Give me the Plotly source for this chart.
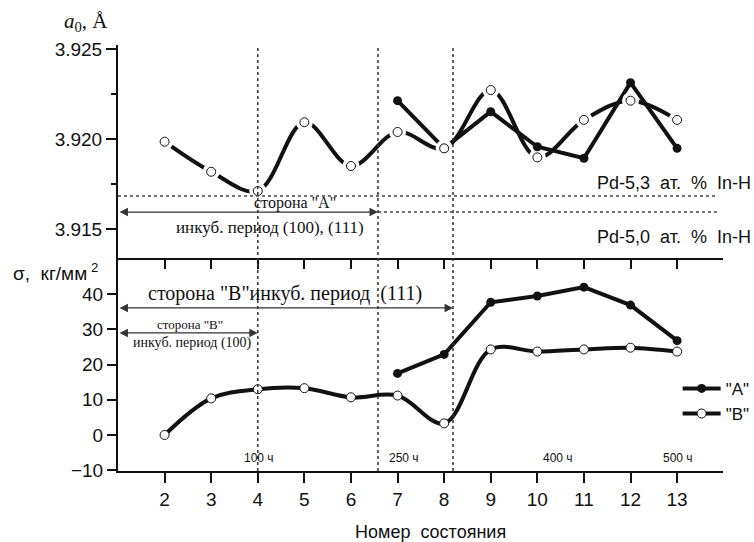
import plotly.graph_objects as go

# ---------------- data ----------------
states = [2, 3, 4, 5, 6, 7, 8, 9, 10, 11, 12, 13]
states_A = [7, 8, 9, 10, 11, 12, 13]

# lattice parameter a0, Å (top panel)
a0_B = [3.91985, 3.91818, 3.91711, 3.92093, 3.91850, 3.92039,
        3.91948, 3.92272, 3.91898, 3.92106, 3.92213, 3.92106]
a0_A = [3.92213, 3.91948, 3.92152, 3.91957, 3.91893, 3.92313, 3.91948]

# stress sigma, kg/mm^2 (bottom panel)
sigma_B = [0.0, 10.4, 13.0, 13.3, 10.7, 11.2, 3.3, 24.3, 23.7, 24.3, 24.8, 23.7]
sigma_A = [17.5, 22.9, 37.7, 39.5, 42.0, 36.9, 26.8]

x_ticks = list(range(2, 14))
sigma_ticks = [-10, 0, 10, 20, 30, 40]
a0_ticks = [3.915, 3.920, 3.925]

time_labels = ["100 ч", "250 ч", "400 ч", "500 ч"]
time_x = [4.03, 7.14, 10.44, 13.02]
boundaries = [4.0, 6.58, 8.19]

legend_names = ['"A"', '"B"']

# ---------------- styling ----------------
SANS = "Liberation Sans, Arial, sans-serif"
SERIF = "Liberation Serif, Times New Roman, serif"
INK = "#111111"
LW = 4

fig = go.Figure()

# ---- top panel (a0) ----
fig.add_trace(go.Scatter(x=states, y=a0_B, mode="lines", xaxis="x2", yaxis="y2",
                         line=dict(color=INK, width=LW, shape="spline", smoothing=1.0),
                         showlegend=False, hoverinfo="skip"))
fig.add_trace(go.Scatter(x=states_A, y=a0_A, mode="lines", xaxis="x2", yaxis="y2",
                         line=dict(color=INK, width=LW),
                         showlegend=False, hoverinfo="skip"))
# white halo around open markers (gap in the curves)
fig.add_trace(go.Scatter(x=states, y=a0_B, mode="markers", xaxis="x2", yaxis="y2",
                         marker=dict(size=17, color="white", line=dict(width=0)),
                         showlegend=False, hoverinfo="skip"))
fig.add_trace(go.Scatter(x=states_A, y=a0_A, mode="markers", xaxis="x2", yaxis="y2",
                         marker=dict(size=9, color=INK, line=dict(width=0)),
                         showlegend=False))
fig.add_trace(go.Scatter(x=states, y=a0_B, mode="markers", xaxis="x2", yaxis="y2",
                         marker=dict(size=9, color="white", line=dict(width=1, color=INK)),
                         showlegend=False))

# ---- bottom panel (sigma) ----
fig.add_trace(go.Scatter(x=states_A, y=sigma_A, mode="lines+markers", name=legend_names[0],
                         line=dict(color=INK, width=LW),
                         marker=dict(size=9, color=INK, line=dict(width=0))))
fig.add_trace(go.Scatter(x=states, y=sigma_B, mode="lines+markers", name=legend_names[1],
                         line=dict(color=INK, width=LW, shape="spline", smoothing=1.0),
                         marker=dict(size=9, color="white", line=dict(width=1, color=INK))))

# ---------------- axes ----------------
xr = [1.0, 13.985]
axis_common = dict(showline=True, linecolor=INK, linewidth=2, showgrid=False,
                   zeroline=False, ticks="outside", tickcolor=INK, tickwidth=1.5)

fig.update_layout(
    width=754, height=542,
    margin=dict(l=118, r=31, t=45, b=71, autoexpand=False),
    paper_bgcolor="white", plot_bgcolor="white",
    font=dict(family=SANS, size=17, color=INK),
    xaxis=dict(**axis_common, domain=[0, 1], range=xr, anchor="y",
               tickvals=x_ticks, ticklen=10, tickfont=dict(size=19)),
    yaxis=dict(**axis_common, domain=[0, 0.5], range=[-10.23, 50.28], anchor="x",
               tickvals=sigma_ticks, ticklen=9, tickfont=dict(size=19)),
    xaxis2=dict(**axis_common, domain=[0, 1], range=xr, anchor="y2", matches="x",
                tickvals=x_ticks, ticklen=9, showticklabels=False),
    yaxis2=dict(**axis_common, domain=[0.5, 1], range=[3.913389, 3.925222], anchor="x2",
                tickvals=a0_ticks, tickformat=".3f", ticklen=10, tickfont=dict(size=19),
                minor=dict(dtick=0.0025, tick0=3.9125, ticks="outside", ticklen=5,
                           tickcolor=INK, tickwidth=1.5)),
    legend=dict(x=0.925, y=0.235, xanchor="left", yanchor="top",
                bgcolor="rgba(0,0,0,0)", borderwidth=0,
                font=dict(family=SANS, size=17), itemwidth=38,
                tracegroupgap=0),
)

# ---------------- reference lines ----------------
shapes = []
for bx in boundaries:
    shapes.append(dict(type="line", xref="x", yref="paper", x0=bx, x1=bx, y0=0, y1=1,
                       line=dict(color="#333", width=1.5, dash="dot")))
shapes.append(dict(type="line", xref="x", yref="y2", x0=1.0, x1=13.88, y0=3.91683, y1=3.91683,
                   line=dict(color="#444", width=1.5, dash="dot")))
shapes.append(dict(type="line", xref="x", yref="y2", x0=6.58, x1=13.92, y0=3.91594, y1=3.91594,
                   line=dict(color="#444", width=1.5, dash="dot")))
fig.update_layout(shapes=shapes)

# ---------------- arrows ----------------
def darrow(x0, x1, y, yref):
    fig.add_annotation(x=x1, y=y, ax=x0, ay=y, xref="x", yref=yref, axref="x", ayref=yref,
                       text="", showarrow=True, arrowhead=2, arrowside="end+start",
                       arrowsize=1.3, arrowwidth=1.3, arrowcolor="#333", standoff=0,
                       startstandoff=0)

darrow(1.0, 6.58, 3.91594, "y2")
darrow(1.0, 8.19, 36.1, "y")
darrow(1.0, 4.0, 29.0, "y")

# ---------------- texts ----------------
def txt(x, y, s, size, family, xref="x", yref="y", xanchor="center"):
    fig.add_annotation(x=x, y=y, xref=xref, yref=yref, text=s, showarrow=False,
                       xanchor=xanchor, yanchor="middle",
                       font=dict(family=family, size=size, color=INK))

txt(4.80, 3.91644, 'сторона "A"', 16, SERIF, yref="y2")
txt(4.26, 3.91511, "инкуб. период (100), (111)", 17, SERIF, yref="y2")
txt(1.05, 3.91756, "Pd-5,3  ат.  %  In-H", 18, SANS, xref="paper", yref="y2", xanchor="right")
txt(1.05, 3.91456, "Pd-5,0  ат.  %  In-H", 18, SANS, xref="paper", yref="y2", xanchor="right")

txt(4.59, 40.06, 'сторона "B"инкуб. период  (111)', 20, SERIF)
txt(2.55, 31.25, 'сторона "B"', 13, SERIF)
txt(2.59, 26.1, "инкуб. период (100)", 14, SERIF)

for tx, tl in zip(time_x, time_labels):
    txt(tx, -6.4, tl, 12, SANS)

txt(-0.0926, 1.054, "<i>a</i><sub>0</sub>, Å", 21, SERIF, xref="paper", yref="paper", xanchor="left")
txt(-0.177, 0.467, "σ,\u00a0 кг/мм<sup>\u00a02</sup>", 19, SANS, xref="paper", yref="paper", xanchor="left")
txt(7.70, -0.143, "Номер  состояния", 18, SANS, yref="paper")

fig.write_html("out.html")
